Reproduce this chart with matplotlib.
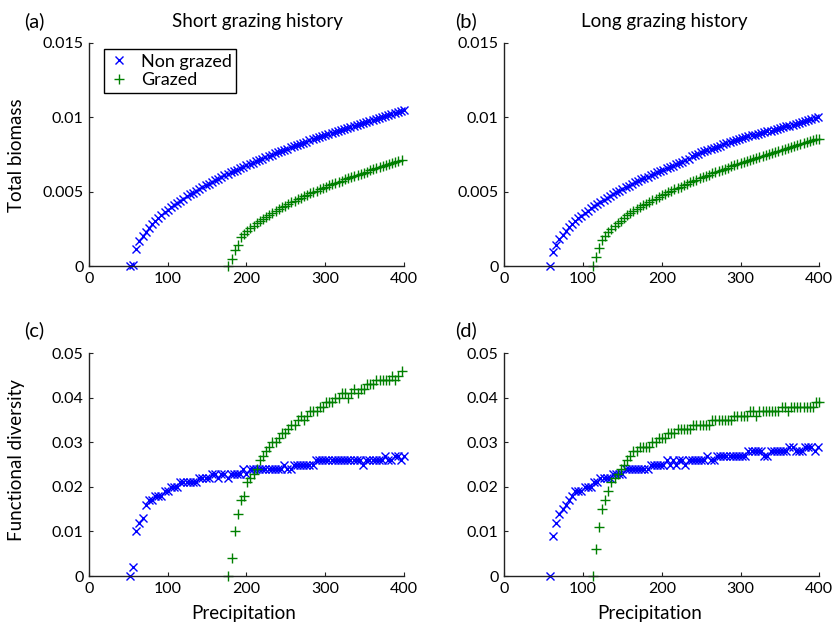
import numpy as np
import matplotlib
matplotlib.use("Agg")
import matplotlib.pyplot as plt
from matplotlib.ticker import FuncFormatter

plt.rcParams["font.family"] = ["Lato", "DejaVu Sans"]

# precipitation grids (simulation sweep, step 4)
precip_short_ng = np.arange(52, 401, 4)
precip_short_g = np.arange(177, 400, 4)
precip_long_ng = np.arange(58, 399, 4)
precip_long_g = np.arange(112, 401, 4)

# total biomass, short grazing history
biomass_short_ng = [
    0.0, 0.0001, 0.00113, 0.00169, 0.00203, 0.00232, 0.00258, 0.00282, 0.00303, 0.00323,
    0.00342, 0.00360, 0.00378, 0.00394, 0.00410, 0.00425, 0.00440, 0.00454, 0.00468, 0.00481,
    0.00494, 0.00507, 0.00519, 0.00531, 0.00543, 0.00554, 0.00566, 0.00577, 0.00588, 0.00598,
    0.00609, 0.00619, 0.00629, 0.00639, 0.00649, 0.00659, 0.00669, 0.00678, 0.00687, 0.00696,
    0.00705, 0.00714, 0.00723, 0.00732, 0.00741, 0.00749, 0.00757, 0.00766, 0.00774, 0.00782,
    0.00790, 0.00798, 0.00806, 0.00814, 0.00822, 0.00829, 0.00837, 0.00845, 0.00852, 0.00859,
    0.00867, 0.00874, 0.00881, 0.00888, 0.00896, 0.00903, 0.00910, 0.00916, 0.00923, 0.00930,
    0.00937, 0.00944, 0.00950, 0.00957, 0.00964, 0.00970, 0.00977, 0.00983, 0.00990, 0.00996,
    0.01002, 0.01009, 0.01015, 0.01021, 0.01027, 0.01034, 0.01040, 0.01046,
]
biomass_short_g = [
    0.0, 0.00045, 0.00110, 0.00140, 0.00192, 0.00214, 0.00235, 0.00253, 0.00271, 0.00287,
    0.00303, 0.00318, 0.00332, 0.00345, 0.00358, 0.00371, 0.00383, 0.00395, 0.00406, 0.00418,
    0.00428, 0.00439, 0.00449, 0.00459, 0.00469, 0.00479, 0.00488, 0.00498, 0.00507, 0.00516,
    0.00525, 0.00533, 0.00542, 0.00550, 0.00559, 0.00567, 0.00575, 0.00583, 0.00591, 0.00598,
    0.00606, 0.00613, 0.00621, 0.00628, 0.00635, 0.00643, 0.00650, 0.00657, 0.00664, 0.00671,
    0.00677, 0.00684, 0.00691, 0.00697, 0.00704, 0.00710,
]

# total biomass, long grazing history
biomass_long_ng = [
    0.0, 0.00094, 0.00144, 0.00180, 0.00210, 0.00237, 0.00260, 0.00282, 0.00302, 0.00321,
    0.00339, 0.00356, 0.00372, 0.00388, 0.00403, 0.00417, 0.00431, 0.00444, 0.00458, 0.00470,
    0.00483, 0.00495, 0.00506, 0.00518, 0.00529, 0.00540, 0.00551, 0.00562, 0.00572, 0.00582,
    0.00592, 0.00602, 0.00612, 0.00622, 0.00631, 0.00640, 0.00649, 0.00658, 0.00667, 0.00676,
    0.00685, 0.00693, 0.00702, 0.00710, 0.00719, 0.00737, 0.00747, 0.00756, 0.00764, 0.00772,
    0.00780, 0.00788, 0.00795, 0.00803, 0.00810, 0.00818, 0.00825, 0.00832, 0.00839, 0.00846,
    0.00853, 0.00859, 0.00866, 0.00872, 0.00878, 0.00884, 0.00890, 0.00896, 0.00901, 0.00906,
    0.00911, 0.00916, 0.00921, 0.00927, 0.00933, 0.00939, 0.00945, 0.00951, 0.00958, 0.00964,
    0.00970, 0.00976, 0.00982, 0.00988, 0.00994, 0.01000,
]
biomass_long_g = [
    0.0, 0.00060, 0.00120, 0.00174, 0.00202, 0.00226, 0.00247, 0.00267, 0.00286, 0.00303,
    0.00326, 0.00342, 0.00357, 0.00370, 0.00383, 0.00396, 0.00408, 0.00420, 0.00432, 0.00443,
    0.00454, 0.00465, 0.00476, 0.00484, 0.00495, 0.00505, 0.00515, 0.00525, 0.00534, 0.00544,
    0.00553, 0.00562, 0.00571, 0.00580, 0.00589, 0.00598, 0.00606, 0.00614, 0.00623, 0.00631,
    0.00639, 0.00647, 0.00655, 0.00662, 0.00670, 0.00678, 0.00685, 0.00692, 0.00700, 0.00707,
    0.00714, 0.00721, 0.00728, 0.00735, 0.00742, 0.00749, 0.00756, 0.00763, 0.00769, 0.00776,
    0.00782, 0.00789, 0.00795, 0.00802, 0.00808, 0.00814, 0.00821, 0.00827, 0.00833, 0.00839,
    0.00845, 0.00851, 0.00857,
]

# functional diversity, short grazing history
fd_short_ng = [
    0.000, 0.002, 0.010, 0.012, 0.013, 0.016, 0.017, 0.017, 0.018, 0.018,
    0.018, 0.019, 0.019, 0.020, 0.020, 0.020, 0.021, 0.021, 0.021, 0.021,
    0.021, 0.021, 0.022, 0.022, 0.022, 0.022, 0.023, 0.023, 0.022, 0.023,
    0.023, 0.022, 0.023, 0.023, 0.023, 0.023, 0.024, 0.023, 0.024, 0.024,
    0.024, 0.024, 0.024, 0.024, 0.024, 0.024, 0.024, 0.024, 0.024, 0.025,
    0.024, 0.024, 0.025, 0.025, 0.025, 0.025, 0.025, 0.025, 0.025, 0.026,
    0.026, 0.026, 0.026, 0.026, 0.026, 0.026, 0.026, 0.026, 0.026, 0.026,
    0.026, 0.026, 0.026, 0.026, 0.025, 0.026, 0.026, 0.026, 0.026, 0.026,
    0.026, 0.027, 0.026, 0.026, 0.027, 0.027, 0.026, 0.027,
]
fd_short_g = [
    0.000, 0.004, 0.010, 0.014, 0.017, 0.018, 0.021, 0.022, 0.023, 0.024,
    0.026, 0.027, 0.028, 0.029, 0.030, 0.030, 0.031, 0.032, 0.032, 0.033,
    0.034, 0.034, 0.035, 0.036, 0.035, 0.036, 0.037, 0.037, 0.037, 0.038,
    0.038, 0.039, 0.039, 0.039, 0.040, 0.040, 0.041, 0.041, 0.040, 0.041,
    0.042, 0.041, 0.042, 0.042, 0.043, 0.043, 0.043, 0.044, 0.044, 0.044,
    0.044, 0.044, 0.045, 0.044, 0.045, 0.046,
]

# functional diversity, long grazing history
fd_long_ng = [
    0.000, 0.009, 0.012, 0.014, 0.015, 0.016, 0.017, 0.018, 0.019, 0.019,
    0.019, 0.020, 0.020, 0.020, 0.021, 0.021, 0.022, 0.022, 0.022, 0.022,
    0.023, 0.023, 0.023, 0.023, 0.024, 0.024, 0.024, 0.024, 0.024, 0.024,
    0.024, 0.024, 0.025, 0.025, 0.025, 0.025, 0.025, 0.026, 0.025, 0.026,
    0.025, 0.026, 0.026, 0.025, 0.026, 0.026, 0.026, 0.026, 0.026, 0.026,
    0.027, 0.026, 0.026, 0.027, 0.027, 0.027, 0.027, 0.027, 0.027, 0.027,
    0.027, 0.027, 0.027, 0.028, 0.028, 0.028, 0.028, 0.028, 0.027, 0.027,
    0.028, 0.028, 0.028, 0.028, 0.028, 0.028, 0.029, 0.029, 0.028, 0.028,
    0.028, 0.029, 0.029, 0.029, 0.028, 0.029,
]
fd_long_g = [
    0.000, 0.006, 0.011, 0.015, 0.017, 0.019, 0.021, 0.022, 0.023, 0.024,
    0.025, 0.026, 0.027, 0.028, 0.028, 0.029, 0.029, 0.029, 0.029, 0.030,
    0.030, 0.031, 0.031, 0.031, 0.032, 0.032, 0.032, 0.033, 0.033, 0.033,
    0.033, 0.033, 0.034, 0.034, 0.034, 0.034, 0.034, 0.034, 0.035, 0.035,
    0.035, 0.035, 0.035, 0.035, 0.035, 0.036, 0.036, 0.036, 0.036, 0.036,
    0.037, 0.037, 0.036, 0.037, 0.037, 0.037, 0.037, 0.037, 0.037, 0.037,
    0.038, 0.038, 0.037, 0.038, 0.038, 0.038, 0.038, 0.038, 0.038, 0.038,
    0.038, 0.039, 0.039,
]

BLUE = "#0000ff"
GREEN = "#008000"

fig = plt.figure(figsize=(8.33, 6.25), dpi=100)

# axes boxes in figure fractions: left, bottom, width, height
boxes = {
    "a": [0.1068, 0.5744, 0.3782, 0.3568],
    "b": [0.6054, 0.5744, 0.3782, 0.3568],
    "c": [0.1068, 0.0784, 0.3782, 0.3563],
    "d": [0.6054, 0.0784, 0.3782, 0.3563],
}

panels = [
    ("a", precip_short_ng, biomass_short_ng, precip_short_g, biomass_short_g, 0.015, [0, 0.005, 0.01, 0.015]),
    ("b", precip_long_ng, biomass_long_ng, precip_long_g, biomass_long_g, 0.015, [0, 0.005, 0.01, 0.015]),
    ("c", precip_short_ng, fd_short_ng, precip_short_g, fd_short_g, 0.05, [0, 0.01, 0.02, 0.03, 0.04, 0.05]),
    ("d", precip_long_ng, fd_long_ng, precip_long_g, fd_long_g, 0.05, [0, 0.01, 0.02, 0.03, 0.04, 0.05]),
]

axes = {}
for key, xn, yn, xg, yg, ymax, yticks in panels:
    ax = fig.add_axes(boxes[key])
    axes[key] = ax
    ax.plot(xn, yn, linestyle="none", marker="x", color=BLUE, markersize=5.5,
            markeredgewidth=1.0, clip_on=False, label="Non grazed")
    ax.plot(xg, yg, linestyle="none", marker="+", color=GREEN, markersize=7,
            markeredgewidth=1.0, clip_on=False, label="Grazed")
    ax.set_xlim(0, 400)
    ax.set_ylim(0, ymax)
    ax.set_xticks([0, 100, 200, 300, 400])
    ax.set_yticks(yticks)
    ax.yaxis.set_major_formatter(FuncFormatter(lambda v, p: "%g" % v))
    ax.spines["top"].set_visible(False)
    ax.spines["right"].set_visible(False)
    for s in ("left", "bottom"):
        ax.spines[s].set_linewidth(1.0)
        ax.spines[s].set_color("#222222")
    ax.tick_params(direction="in", length=3, width=0.8, labelsize=11.5,
                   color="#222222", pad=4)
    ax.patch.set_visible(False)

# legend in the first panel
leg = axes["a"].legend(loc="upper left", bbox_to_anchor=(0.048, 0.972),
                       borderaxespad=0, fancybox=False, framealpha=1,
                       edgecolor="black", fontsize=13, handletextpad=0.6,
                       borderpad=0.25, labelspacing=0.15, handlelength=1.2)
leg.get_frame().set_linewidth(1.0)

# titles and panel letters
fig.text(257 / 833, 1 - 22 / 625, "Short grazing history", ha="center", va="center", fontsize=13.5)
fig.text(664 / 833, 1 - 22 / 625, "Long grazing history", ha="center", va="center", fontsize=13.5)
for key, x0, y0 in [("a", 24, 21), ("b", 455, 21), ("c", 24, 330), ("d", 455, 330)]:
    fig.text(x0 / 833, 1 - y0 / 625, "(%s)" % key, ha="left", va="center", fontsize=14.5)

# axis labels
fig.text(17 / 833, 1 - 155 / 625, "Total biomass", rotation=90, ha="center", va="center", fontsize=13.5)
fig.text(17 / 833, 1 - 460 / 625, "Functional diversity", rotation=90, ha="center", va="center", fontsize=13.5)
fig.text(244 / 833, 1 - 614 / 625, "Precipitation", ha="center", va="center", fontsize=13.5)
fig.text(650 / 833, 1 - 614 / 625, "Precipitation", ha="center", va="center", fontsize=13.5)

fig.savefig("out.png", dpi=100)
